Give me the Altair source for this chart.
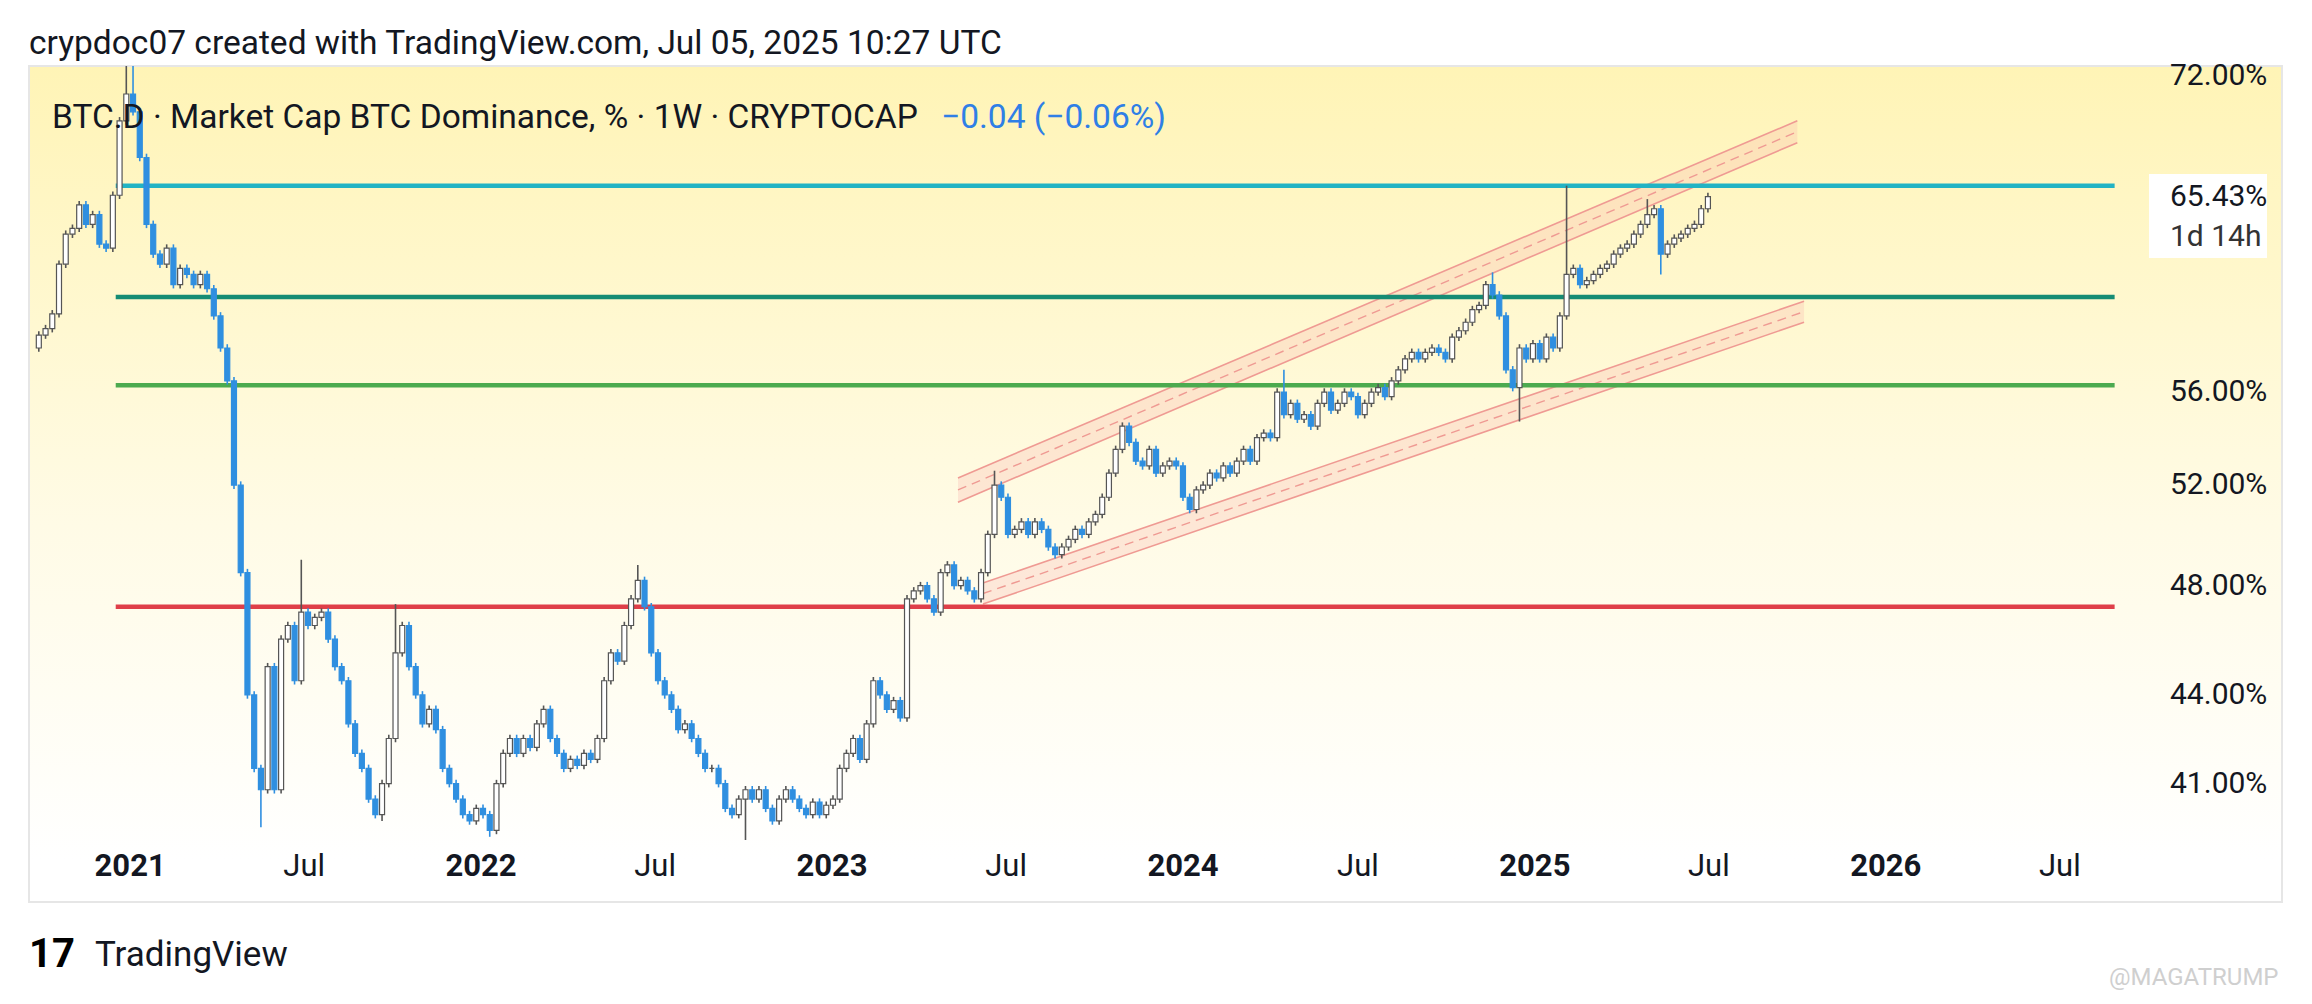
import altair as alt
import pandas as pd

# 週線收盤價（BTC.D，%），2020-09-28 起每週一根
closes_2020 = [58.6, 58.9, 59.6, 62.0, 63.5, 63.8, 65.0, 64.0, 64.5, 63.0, 62.8, 65.5, 69.5, 71.0]
closes_2021 = [70.0, 67.5, 64.0, 62.5, 62.0, 62.8, 61.0, 61.8, 61.5, 61.0, 61.5, 60.8, 59.5,
               58.0, 56.5, 52.0, 48.5, 44.0, 41.5, 40.8, 45.0, 40.8, 46.0, 46.5, 44.5, 47.0,
               46.5, 46.8, 47.0, 46.0, 45.0, 44.5, 43.0, 42.0, 41.5, 40.5, 40.0, 41.0, 42.5,
               45.5, 46.5, 45.0, 44.0, 43.0, 43.5, 42.8, 41.5, 41.0, 40.5, 40.0, 39.8, 40.2]
closes_2022 = [40.0, 39.5, 41.0, 42.0, 42.5, 42.0, 42.5, 42.2, 43.0, 43.5, 42.5, 42.0, 41.5,
               41.8, 41.6, 42.0, 41.8, 42.5, 44.5, 45.5, 45.2, 46.5, 47.5, 48.2, 47.2, 45.5,
               44.5, 44.0, 43.5, 42.8, 43.0, 42.5, 42.0, 41.5, 41.5, 41.0, 40.2, 40.0, 40.5,
               40.8, 40.5, 40.8, 40.2, 39.8, 40.5, 40.8, 40.5, 40.2, 40.0, 40.4, 40.0, 40.3]
closes_2023 = [40.5, 41.5, 42.0, 42.5, 41.8, 43.0, 44.5, 44.0, 43.5, 43.8, 43.2, 47.5, 47.8,
               48.0, 47.5, 47.0, 48.5, 48.8, 48.0, 48.2, 47.8, 47.5, 48.5, 50.0, 52.0, 51.5,
               50.0, 50.2, 50.5, 50.0, 50.5, 50.2, 49.5, 49.2, 49.5, 49.8, 50.2, 50.0, 50.5,
               50.8, 51.5, 52.5, 53.5, 54.5, 53.8, 53.0, 52.8, 53.5, 52.5, 52.8, 53.0, 52.8]
closes_2024 = [51.5, 51.0, 51.8, 52.0, 52.5, 52.3, 52.8, 52.5, 53.0, 53.5, 53.0, 54.0, 54.2,
               54.0, 56.0, 55.0, 55.5, 54.8, 55.0, 54.5, 55.5, 56.0, 55.2, 55.5, 56.0, 55.8,
               55.0, 55.5, 56.0, 56.2, 55.8, 56.5, 57.0, 57.5, 57.8, 57.5, 57.8, 58.0, 57.8,
               57.5, 58.5, 58.8, 59.2, 59.8, 60.0, 61.0, 60.5, 59.5, 57.0, 56.2, 58.0, 57.5, 58.2]
closes_2025 = [57.5, 58.5, 58.0, 59.5, 61.5, 61.8, 61.0, 61.2, 61.5, 61.8, 62.0, 62.5, 62.8,
               63.0, 63.5, 64.0, 64.5, 64.8, 62.5, 63.0, 63.3, 63.5, 63.8, 64.0, 64.8, 65.43]
first_open = 58.0

# 影線特別長的幾根（其餘只留一點點影線）
notable_highs = {"2020-12-28": 72.8, "2021-01-04": 73.6, "2021-06-28": 49.0, "2021-10-04": 47.3,
                 "2022-06-13": 48.8, "2023-06-19": 52.6, "2024-04-15": 57.0, "2024-11-18": 61.6,
                 "2025-02-03": 66.0, "2025-04-28": 65.3}
notable_lows = {"2021-05-17": 39.6, "2021-09-20": 39.8, "2022-01-10": 39.3, "2022-10-03": 39.2,
                "2024-12-16": 54.7, "2025-05-12": 61.5}

# 水平支撐壓力線
level_values = [66.0, 60.4, 56.3, 47.2]
level_colors = ["#22b3c4", "#158c74", "#4caa4f", "#df3f49"]
level_start, level_end = "2020-12-17", "2026-08-27"

# 上升通道（上緣 / 下緣，各自是一條帶狀）
chan_dates = [["2023-05-12", "2025-10-01"], ["2023-06-07", "2025-10-08"]]
chan_mid = [[51.8, 68.9], [47.7, 59.7]]
chan_hi = [[52.3, 69.5], [48.1, 60.2]]
chan_lo = [[51.3, 68.3], [47.3, 59.2]]

last_price = 65.43
y_ticks = [41, 44, 48, 52, 56, 72]
x_tick_dates = [f"{y}-{m}-01" for y in range(2021, 2027) for m in ("01", "07")]
x_tick_labels = [l for y in range(2021, 2027) for l in (str(y), "Jul")]

W, H = 2131, 774
FONT = "Roboto"
INK = "#131722"
UP, DOWN = "#ffffff", "#2f8fe0"

closes = closes_2020 + closes_2021 + closes_2022 + closes_2023 + closes_2024 + closes_2025
dates = pd.date_range("2020-09-28", periods=len(closes), freq="7D")
opens = [first_open] + closes[:-1]
rows = []
for d, o, c in zip(dates, opens, closes):
    k = d.strftime("%Y-%m-%d")
    hi = notable_highs.get(k, max(o, c) * 1.003)
    lo = notable_lows.get(k, min(o, c) * 0.997)
    rows.append({"date": d, "open": o, "close": c, "high": hi, "low": lo})
candles = pd.DataFrame(rows)

x_scale = alt.Scale(domain=["2020-09-23", "2026-10-08"])
y_scale = alt.Scale(type="log", domain=[39.2, 72.6], nice=False, zero=False)

bg = alt.Chart(pd.DataFrame({"a": [0]})).mark_rect(
    color=alt.Gradient(gradient="linear", x1=0, x2=0, y1=0, y2=1,
                       stops=[alt.GradientStop(color="#fff4b6", offset=0),
                              alt.GradientStop(color="#fffbe6", offset=0.55),
                              alt.GradientStop(color="#ffffff", offset=0.95)]),
    stroke="#e6e6e6", strokeWidth=2,
).encode(x=alt.value(0), x2=alt.value(2253), y=alt.value(0), y2=alt.value(836))

levels = pd.DataFrame({"v": level_values, "c": level_colors, "s": level_start, "e": level_end})
level_rules = alt.Chart(levels).mark_rule(strokeWidth=4.5).encode(
    x=alt.X("s:T", scale=x_scale, axis=None), x2="e:T",
    y=alt.Y("v:Q", scale=y_scale, axis=None),
    color=alt.Color("c:N", scale=None))

chan_rows = []
for i in range(2):
    for j in range(2):
        chan_rows.append({"ch": i, "date": pd.Timestamp(chan_dates[i][j]),
                          "mid": chan_mid[i][j], "hi": chan_hi[i][j], "lo": chan_lo[i][j]})
chan = pd.DataFrame(chan_rows)
cbase = alt.Chart(chan).encode(x=alt.X("date:T", scale=x_scale, axis=None), detail="ch:N")
chan_area = cbase.mark_area(color="#f7b3ab", opacity=0.28).encode(y=alt.Y("hi:Q", scale=y_scale, axis=None), y2="lo:Q")
chan_hi_l = cbase.mark_line(color="#ef9a93", strokeWidth=1.6).encode(y=alt.Y("hi:Q", scale=y_scale, axis=None))
chan_lo_l = cbase.mark_line(color="#ef9a93", strokeWidth=1.6).encode(y=alt.Y("lo:Q", scale=y_scale, axis=None))
chan_mid_l = cbase.mark_line(color="#ef9a93", strokeWidth=1.4, strokeDash=[9, 6]).encode(y=alt.Y("mid:Q", scale=y_scale, axis=None))

cond_fill = alt.condition("datum.close >= datum.open", alt.value(UP), alt.value(DOWN))
cond_line = alt.condition("datum.close >= datum.open", alt.value("#555555"), alt.value(DOWN))
cb = alt.Chart(candles).encode(x=alt.X("date:T", scale=x_scale, axis=None))
wicks = cb.mark_rule(strokeWidth=1.6, clip=True).encode(
    y=alt.Y("low:Q", scale=y_scale, axis=None), y2="high:Q", color=cond_line)
bodies = cb.mark_bar(size=5, strokeWidth=1.2, clip=True).encode(
    y=alt.Y("open:Q", scale=y_scale, axis=None), y2="close:Q", fill=cond_fill, stroke=cond_line)

# 座標軸標籤用文字圖層畫（年份粗體、Jul 一般字重）
xt = pd.DataFrame({"d": pd.to_datetime(x_tick_dates), "t": x_tick_labels,
                   "w": ["bold" if l != "Jul" else "normal" for l in x_tick_labels]})
x_year = alt.Chart(xt[xt.w == "bold"]).mark_text(fontSize=31, font=FONT, color=INK, fontWeight="bold").encode(
    x=alt.X("d:T", scale=x_scale, axis=None), y=alt.value(H + 27), text="t:N")
x_jul = alt.Chart(xt[xt.w == "normal"]).mark_text(fontSize=31, font=FONT, color=INK).encode(
    x=alt.X("d:T", scale=x_scale, axis=None), y=alt.value(H + 27), text="t:N")
yt = pd.DataFrame({"v": y_ticks, "t": [f"{v:.2f}%" for v in y_ticks]})
y_lab = alt.Chart(yt).mark_text(align="left", fontSize=30, font=FONT, color=INK, dx=10).encode(
    x=alt.value(W), y=alt.Y("v:Q", scale=y_scale, axis=None), text="t:N")

lp = pd.DataFrame({"v": [last_price], "t": [f"{last_price:.2f}%"], "t2": ["1d 14h"]})
lp_box = alt.Chart(lp).mark_rect(color="#ffffff").encode(
    x=alt.value(2120), x2=alt.value(2238), y=alt.value(108), y2=alt.value(192))
lp_txt = alt.Chart(lp).mark_text(align="left", fontSize=30, font=FONT, color=INK, dx=10).encode(
    x=alt.value(W), y=alt.Y("v:Q", scale=y_scale, axis=None), text="t:N")
lp_txt2 = alt.Chart(lp).mark_text(align="left", fontSize=30, font=FONT, color="#333333", dx=10, dy=40).encode(
    x=alt.value(W), y=alt.Y("v:Q", scale=y_scale, axis=None), text="t2:N")

def label(txt, x, y, size, color=INK, weight="normal"):
    return alt.Chart(pd.DataFrame({"t": [txt]})).mark_text(
        align="left", baseline="middle", fontSize=size, font=FONT, color=color, fontWeight=weight
    ).encode(x=alt.value(x), y=alt.value(y), text="t:N")

texts = [
    label("crypdoc07 created with TradingView.com, Jul 05, 2025 10:27 UTC", 0, -22, 33.5),
    label("BTC.D · Market Cap BTC Dominance, % · 1W · CRYPTOCAP", 23, 52, 33.5),
    label("−0.04 (−0.06%)", 912, 52, 33.5, color="#2f7fe6"),
    label("17", 0, 889, 40, color="#000000", weight="bold"),
    label("TradingView", 66, 889, 35),
    label("@MAGATRUMP", 2080, 912, 24, color="#cfcfcf"),
]

chart = alt.layer(
    bg, chan_area, chan_hi_l, chan_lo_l, chan_mid_l, level_rules, wicks, bodies,
    x_year, x_jul, y_lab, lp_box, lp_txt, lp_txt2, *texts
).resolve_scale(color="independent").properties(
    width=W, height=H, background="#ffffff",
    autosize=alt.AutoSizeParams(type="none"),
    padding={"left": 21, "top": 58, "right": 144, "bottom": 156},
).configure_view(stroke=None)

chart.save("out.html", embed_options={"renderer": "svg", "actions": False})
